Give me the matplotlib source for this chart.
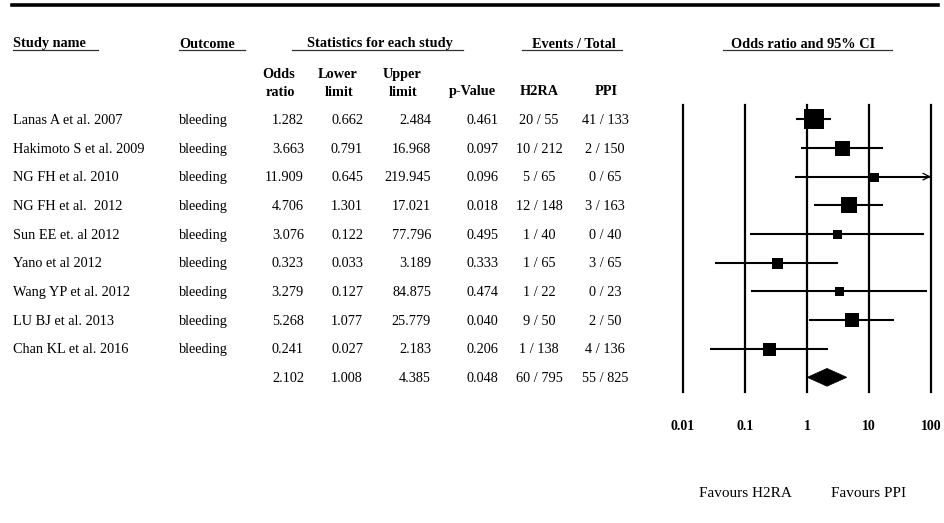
import matplotlib
matplotlib.use('Agg')
import matplotlib.pyplot as plt
from matplotlib.transforms import blended_transform_factory, ScaledTranslation
from matplotlib.patches import Polygon
from matplotlib.lines import Line2D
from matplotlib.ticker import NullLocator

# ---------------- data ----------------
studies = ["Lanas A et al. 2007", "Hakimoto S et al. 2009", "NG FH et al. 2010",
           "NG FH et al.  2012", "Sun EE et. al 2012", "Yano et al 2012",
           "Wang YP et al. 2012", "LU BJ et al. 2013", "Chan KL et al. 2016"]
outcomes = ["bleeding"] * 9
odds = [1.282, 3.663, 11.909, 4.706, 3.076, 0.323, 3.279, 5.268, 0.241]
lower = [0.662, 0.791, 0.645, 1.301, 0.122, 0.033, 0.127, 1.077, 0.027]
upper = [2.484, 16.968, 219.945, 17.021, 77.796, 3.189, 84.875, 25.779, 2.183]
pvals = [0.461, 0.097, 0.096, 0.018, 0.495, 0.333, 0.474, 0.040, 0.206]
h2ra_events = [20, 10, 5, 12, 1, 1, 1, 9, 1]
h2ra_total = [55, 212, 65, 148, 40, 65, 22, 50, 138]
ppi_events = [41, 2, 0, 3, 0, 3, 0, 2, 4]
ppi_total = [133, 150, 65, 163, 40, 65, 23, 50, 136]
weights = [20, 15, 9, 16, 9, 11, 9, 14, 13]   # relative study weights (box size)

pooled_or, pooled_lower, pooled_upper, pooled_p = 2.102, 1.008, 4.385, 0.048
pooled_h2ra = (60, 795)
pooled_ppi = (55, 825)

ticks = [0.01, 0.1, 1, 10, 100]
tick_labels = ["0.01", "0.1", "1", "10", "100"]
favours = ["Favours H2RA", "Favours PPI"]
favours_x = [0.1, 10]

# ---------------- figure ----------------
W, H = 944, 523
plt.rcParams['font.family'] = ['Liberation Serif', 'DejaVu Serif']
fig = plt.figure(figsize=(W / 100, H / 100), dpi=100)

def fx(px):
    return px / W

def fy(py):
    return 1 - py / H

ax_l, ax_r, ax_t, ax_b = 683, 931, 105, 392
ax = fig.add_axes([fx(ax_l), fy(ax_b), (ax_r - ax_l) / W, (ax_b - ax_t) / H])
ax.set_xscale('log')
ax.set_xlim(0.01, 100)
n = len(studies)
row0, rowstep = 119.3, 28.67
ax.set_ylim((ax_b - row0) / rowstep, (ax_t - row0) / rowstep)
ax.set_frame_on(False)
ax.set_yticks([])
ax.set_xticks(ticks)
ax.set_xticklabels(tick_labels, fontweight='bold', fontsize=10)
ax.xaxis.set_minor_locator(NullLocator())
ax.tick_params(axis='x', length=0, pad=20)

for t in ticks:
    ax.axvline(t, color='black', lw=1.6, clip_on=False, zorder=1)

lw_ci = 1.5
for i in range(n):
    hi = min(upper[i], 100)
    ax.plot([lower[i], hi], [i, i], color='black', lw=lw_ci, solid_capstyle='butt',
            zorder=2, clip_on=False)
    if upper[i] > 100:
        ax.annotate('', xy=(100, i), xytext=(70, i),
                    arrowprops=dict(arrowstyle='->', lw=0.9, color='black',
                                    mutation_scale=12, shrinkA=0, shrinkB=0),
                    annotation_clip=False, zorder=2)
    ax.plot([odds[i]], [i], marker='s', markersize=weights[i] * 0.72,
            color='black', mew=0, zorder=3, clip_on=False)

# pooled diamond
yp = n
dh = 0.31
ax.add_patch(Polygon([(pooled_lower, yp), (pooled_or, yp - dh), (pooled_upper, yp),
                      (pooled_or, yp + dh)], closed=True, facecolor='black',
                     edgecolor='black', lw=0.5, zorder=3, clip_on=False))

# favours labels
tf = blended_transform_factory(ax.transData, fig.transFigure)
for x, lab in zip(favours_x, favours):
    ax.text(x, fy(497), lab, transform=tf, ha='center', va='baseline', fontsize=11)

# ---------------- table ----------------
tr = blended_transform_factory(fig.transFigure, ax.transData) + \
    ScaledTranslation(0, -4.6 / 100, fig.dpi_scale_trans)
fs = 10.3
col_study, col_out = 12.7, 179
col_or, col_lo, col_up, col_p = 304, 363, 431, 498
col_h2, col_ppi = 539, 605

def row_text(i, cells):
    for x, s, ha in cells:
        ax.text(fx(x), i, s, transform=tr, ha=ha, va='baseline', fontsize=fs)

for i in range(n):
    row_text(i, [(col_study, studies[i], 'left'),
                 (col_out, outcomes[i], 'left'),
                 (col_or, f"{odds[i]:.3f}", 'right'),
                 (col_lo, f"{lower[i]:.3f}", 'right'),
                 (col_up, f"{upper[i]:.3f}", 'right'),
                 (col_p, f"{pvals[i]:.3f}", 'right'),
                 (col_h2, f"{h2ra_events[i]} / {h2ra_total[i]}", 'center'),
                 (col_ppi, f"{ppi_events[i]} / {ppi_total[i]}", 'center')])
row_text(n, [(col_or, f"{pooled_or:.3f}", 'right'),
             (col_lo, f"{pooled_lower:.3f}", 'right'),
             (col_up, f"{pooled_upper:.3f}", 'right'),
             (col_p, f"{pooled_p:.3f}", 'right'),
             (col_h2, f"{pooled_h2ra[0]} / {pooled_h2ra[1]}", 'center'),
             (col_ppi, f"{pooled_ppi[0]} / {pooled_ppi[1]}", 'center')])

# ---------------- headers ----------------
fig.add_artist(Line2D([fx(12), fx(938)], [fy(5)] * 2, color='black', lw=2.6))

headers = [("Study name", 12.7, 'left', 12.7, 98),
           ("Outcome", 179, 'left', 179, 245),
           ("Statistics for each study", 379.5, 'center', 292, 463),
           ("Events / Total", 573.5, 'center', 522, 622),
           ("Odds ratio and 95% CI", 803.5, 'center', 723, 892)]
for txt, x, ha, u0, u1 in headers:
    fig.text(fx(x), fy(47.5), txt, ha=ha, va='baseline', fontsize=fs, fontweight='bold')
    fig.add_artist(Line2D([fx(u0), fx(u1)], [fy(50)] * 2, color='#333333', lw=0.9))

sub = [("Odds", 279, 78), ("ratio", 280, 96), ("Lower", 338, 78), ("limit", 339, 96),
       ("Upper", 402, 78), ("limit", 403, 96), ("p-Value", 472, 95.5),
       ("H2RA", 539, 95.5), ("PPI", 606, 95.5)]
for txt, x, y in sub:
    fig.text(fx(x), fy(y), txt, ha='center', va='baseline', fontsize=fs, fontweight='bold')

fig.savefig('out.png', dpi=100)
